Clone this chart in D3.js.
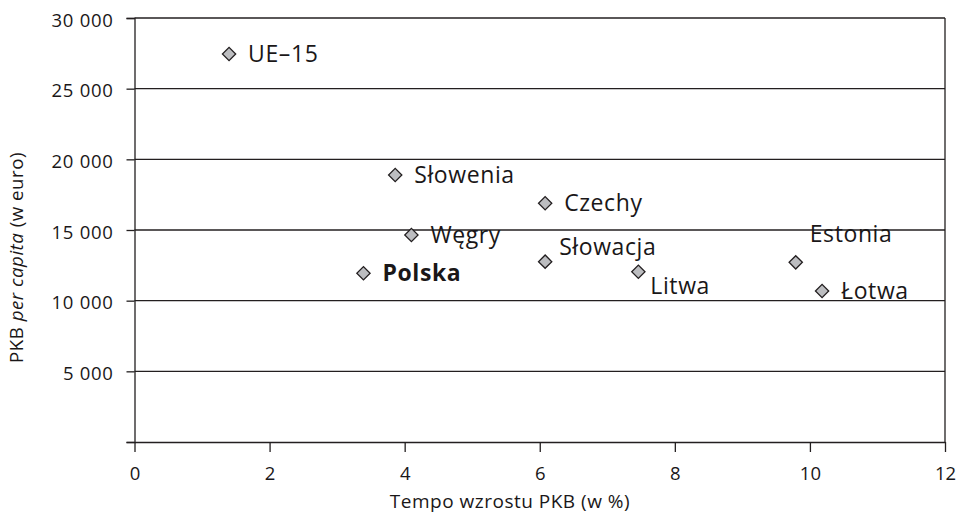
<!DOCTYPE html>
<html><head><meta charset="utf-8">
<script src="https://cdn.jsdelivr.net/npm/d3@7"></script>
<style>
body{margin:0;background:#fff}
svg{display:block}
text{font-family:"Open Sans",sans-serif;fill:#1a1718}
</style>
</head><body>
<svg id="c" width="957" height="512"></svg>
<script>
const countries = ["UE–15","Słowenia","Czechy","Węgry","Polska","Słowacja","Litwa","Estonia","Łotwa"];
const growth = [1.40,3.86,6.08,4.10,3.39,6.08,7.46,9.79,10.18];
const gdp = [27450,18890,16890,14650,11940,12760,12050,12710,10680];
const labelPlace = ["right","right","right","right","right","upRight","downRight","up","right"];
const highlighted = ["Polska"];
const xTicks = [0,2,4,6,8,10,12];
const yTicks = [0,5000,10000,15000,20000,25000,30000];
const xTitle = "Tempo wzrostu PKB (w %)";

const placements = {right:[19,8], upRight:[14,-7], downRight:[12,22], up:[14,-20]};

const svg = d3.select("#c");
const L = 134.5, R = 945, T = 18, B = 442;
const x = d3.scaleLinear().domain([0,12]).range([L,R]);
const y = d3.scaleLinear().domain([0,30000]).range([B,T]);
const loc = d3.formatLocale({decimal:",",thousands:"\u00a0",grouping:[3],currency:["","zł"]});
const fmt = loc.format(",");
const ink = "#231f20";
const txt = "#1a1718";

// gridlines
svg.append("g").selectAll("line").data(yTicks.filter(d=>d>0)).join("line")
  .attr("x1",L).attr("x2",R).attr("y1",d=>y(d)).attr("y2",d=>y(d))
  .attr("stroke",ink).attr("stroke-width",1.3);
// right border
svg.append("line").attr("x1",R).attr("x2",R).attr("y1",T).attr("y2",B)
  .attr("stroke",ink).attr("stroke-width",1.3);

// y axis
const yAxis = d3.axisLeft(y).tickValues(yTicks).tickSize(8).tickPadding(13)
  .tickFormat(d=>d===0?"":fmt(d));
const gy = svg.append("g").attr("transform",`translate(${L},0)`).call(yAxis);
gy.select(".domain").attr("stroke",ink).attr("stroke-width",1.3);
gy.selectAll(".tick line").attr("stroke",ink).attr("stroke-width",1.3);
gy.selectAll(".tick text").attr("font-size",18.5).attr("font-family","Open Sans").attr("fill",txt)
  .attr("dy","0.45em").attr("letter-spacing","0.7px");

// x axis
const xAxis = d3.axisBottom(x).tickValues(xTicks).tickSize(10).tickSizeOuter(0).tickPadding(15);
const gx = svg.append("g").attr("transform",`translate(0,${B})`).call(xAxis);
gx.select(".domain").attr("stroke",ink).attr("stroke-width",1.3);
gx.selectAll(".tick line").attr("stroke",ink).attr("stroke-width",1.3);
gx.selectAll(".tick text").attr("font-size",18.5).attr("font-family","Open Sans").attr("fill",txt);

// titles
svg.append("text").attr("x",510).attr("y",507.5).attr("text-anchor","middle")
  .attr("font-size",19).attr("letter-spacing","0.5px").text(xTitle);
const yt = svg.append("text").attr("transform","translate(23,257.5) rotate(-90)")
  .attr("text-anchor","middle").attr("font-size",18.7).attr("letter-spacing","0.5px");
yt.append("tspan").text("PKB ");
yt.append("tspan").attr("font-style","italic").text("per capita");
yt.append("tspan").text(" (w euro)");

// points
const data = countries.map((c,i)=>({c, gx:growth[i], gy:gdp[i], p:labelPlace[i]}));
const sym = d3.symbol().type(d3.symbolSquare).size(88);
svg.append("g").selectAll("path").data(data).join("path")
  .attr("d",sym)
  .attr("transform",d=>`translate(${x(d.gx)},${y(d.gy)}) rotate(45)`)
  .attr("fill","#bcbdc0").attr("stroke",ink).attr("stroke-width",1.3);

svg.append("g").selectAll("text").data(data).join("text")
  .attr("x",d=>x(d.gx)+placements[d.p][0])
  .attr("y",d=>y(d.gy)+placements[d.p][1])
  .attr("font-size",23).attr("letter-spacing","0.6px")
  .attr("font-weight",d=>highlighted.includes(d.c)?"bold":"normal")
  .text(d=>d.c);
</script>
</body></html>
